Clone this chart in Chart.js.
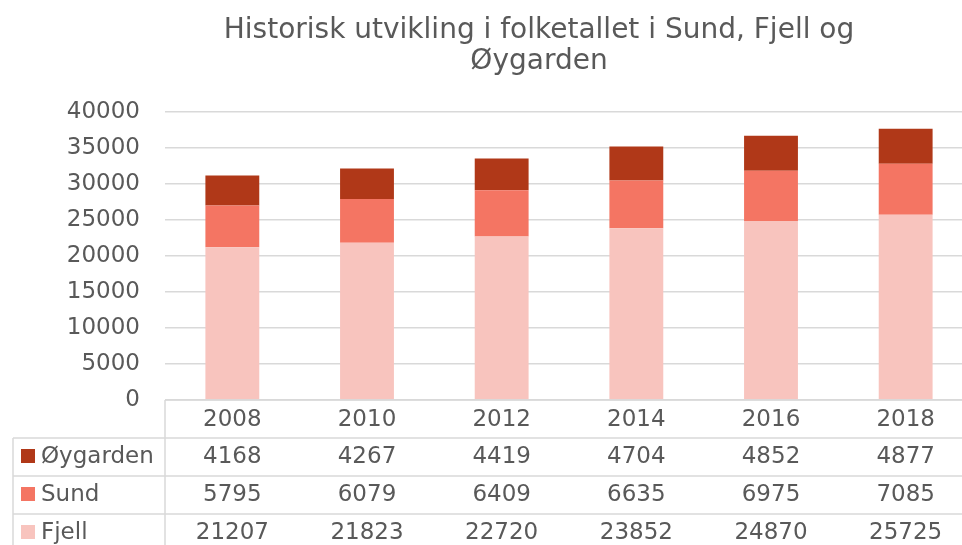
<!DOCTYPE html>
<html>
<head>
<meta charset="utf-8">
<script src="https://cdn.jsdelivr.net/npm/chart.js@4/dist/chart.umd.min.js"></script>
<style>
  html, body { margin:0; padding:0; background:#fff; overflow:hidden; }
  .wrap { position:relative; width:975px; height:545px; }
</style>
</head>
<body>
<div class="wrap"><canvas id="chart"></canvas></div>
<script>
// ── data ─────────────────────────────────────────────────────────────────────
const years     = ['2008', '2010', '2012', '2014', '2016', '2018'];
const fjell     = [21207, 21823, 22720, 23852, 24870, 25725];
const sund      = [5795, 6079, 6409, 6635, 6975, 7085];
const oygarden  = [4168, 4267, 4419, 4704, 4852, 4877];
const titleLines = ['Historisk utvikling i folketallet i Sund, Fjell og', 'Øygarden'];

const FONT  = '"DejaVu Sans", Verdana, sans-serif';
const TXT   = '#595959';
const GRID  = '#d9d9d9';
const COLORS = { oygarden:'#b03818', sund:'#f47563', fjell:'#f8c4be' };

// rows of the data table, top to bottom
const tableRows = [
  { label:'Øygarden', color:COLORS.oygarden, values:oygarden },
  { label:'Sund',     color:COLORS.sund,     values:sund },
  { label:'Fjell',    color:COLORS.fjell,    values:fjell },
];

// title + data table under the plot
const tablePlugin = {
  id: 'dataTable',
  afterDraw(chart) {
    const { ctx, chartArea: ca, scales: { x } } = chart;
    const rowH = 38, left = 13;
    ctx.save();
    ctx.fillStyle = TXT;
    ctx.textAlign = 'center';
    ctx.textBaseline = 'middle';
    ctx.font = `28px ${FONT}`;
    titleLines.forEach((t, i) => ctx.fillText(t, 539, 31 + i * 31));

    ctx.font = `23px ${FONT}`;
    // lines
    ctx.strokeStyle = GRID;
    ctx.lineWidth = 1.5;
    ctx.beginPath();
    ctx.moveTo(ca.left, ca.bottom); ctx.lineTo(chart.width, ca.bottom);
    ctx.moveTo(ca.left, ca.bottom); ctx.lineTo(ca.left, chart.height);
    for (let r = 1; r <= tableRows.length; r++) {
      const y = ca.bottom + rowH * r;
      ctx.moveTo(left, y); ctx.lineTo(chart.width, y);
    }
    ctx.moveTo(left, ca.bottom + rowH); ctx.lineTo(left, chart.height);
    ctx.stroke();

    // header row
    years.forEach((yr, i) => ctx.fillText(yr, x.getPixelForValue(i), ca.bottom + rowH / 2 + 1));

    // series rows
    tableRows.forEach((row, r) => {
      const cy = ca.bottom + rowH * (r + 1) + rowH / 2;
      ctx.fillStyle = row.color;
      ctx.fillRect(left + 8, cy - 8, 14, 14);
      ctx.fillStyle = TXT;
      ctx.textAlign = 'left';
      ctx.fillText(row.label, left + 28, cy);
      ctx.textAlign = 'center';
      row.values.forEach((v, i) => ctx.fillText(String(v), x.getPixelForValue(i), cy));
    });
    ctx.restore();
  },
};

new Chart(document.getElementById('chart'), {
  type: 'bar',
  data: {
    labels: years,
    datasets: [
      { label:'Fjell',    data:fjell,    backgroundColor:COLORS.fjell },
      { label:'Sund',     data:sund,     backgroundColor:COLORS.sund },
      { label:'Øygarden', data:oygarden, backgroundColor:COLORS.oygarden },
    ],
  },
  options: {
    responsive: true, maintainAspectRatio: false, animation: false,
    layout: { padding: { top:112, bottom:145, left:0, right:2 } },
    datasets: { bar: { barPercentage:0.4, categoryPercentage:1 } },
    plugins: { legend:{ display:false }, tooltip:{ enabled:false }, title:{ display:false } },
    scales: {
      x: {
        display: false, stacked: true, offset: true,
        grid: { display:false },
      },
      y: {
        stacked: true, min: 0, max: 40000,
        grid: { color:GRID, lineWidth:1.5, drawTicks:false },
        border: { display:false },
        ticks: { stepSize:5000, color:TXT, font:{ family:FONT, size:23 }, padding:25, callback: v => String(v) },
        afterFit(scale) { scale.width = 165; },
      },
    },
  },
  plugins: [tablePlugin],
});
</script>
</body>
</html>
